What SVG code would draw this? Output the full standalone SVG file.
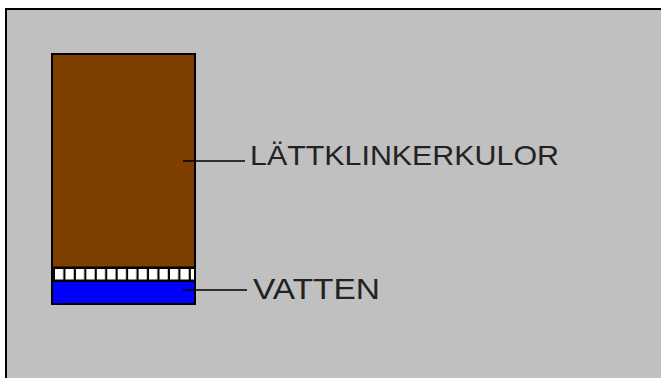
<svg xmlns="http://www.w3.org/2000/svg" width="661" height="378" viewBox="0 0 661 378">
  <style>
    .edge { stroke: #000; stroke-width: 2; fill: none; }
    .leader { stroke: #000; stroke-width: 1.5; }
    .label { font-family: "Liberation Sans", Arial, sans-serif; font-size: 28px; fill: #222; }
  </style>
  <defs>
    <pattern id="grid" x="55" y="268" width="10.45" height="13" patternUnits="userSpaceOnUse">
      <rect x="0" y="0" width="10.45" height="13" fill="#000"/>
      <rect x="0" y="1" width="8.3" height="10.5" fill="#fff"/>
    </pattern>
  </defs>

  <!-- page -->
  <rect x="0" y="0" width="661" height="378" fill="#fff"/>
  <rect x="5" y="8" width="656" height="370" fill="#c0c0c0"/>
  <line x1="5" y1="9" x2="661" y2="9" class="edge"/>
  <line x1="6" y1="8" x2="6" y2="378" class="edge"/>

  <!-- column of layers -->
  <g id="column">
    <rect x="52" y="54" width="143" height="250" fill="#7f3f00"/>
    <rect x="52" y="268" width="143" height="13" fill="url(#grid)"/>
    <rect x="52" y="281" width="143" height="23" fill="#0000ff"/>
    <line x1="52" y1="267.5" x2="195" y2="267.5" stroke="#000" stroke-width="2"/>
    <line x1="52" y1="281" x2="195" y2="281" stroke="#000" stroke-width="2"/>
    <rect x="52" y="54" width="143" height="250" class="edge"/>
  </g>

  <g id="connectors">
    <line x1="183" y1="161" x2="245" y2="161" class="leader"/>
    <line x1="183" y1="290" x2="247" y2="290" class="leader"/>
  </g>

  <g id="label-lattklinker">
    <text x="250" y="165" class="label" textLength="309" lengthAdjust="spacingAndGlyphs">LÄTTKLINKERKULOR</text>
  </g>
  <g id="label-vatten">
    <text x="253" y="299" class="label" style="font-size:30px" textLength="127" lengthAdjust="spacingAndGlyphs">VATTEN</text>
  </g>
</svg>
